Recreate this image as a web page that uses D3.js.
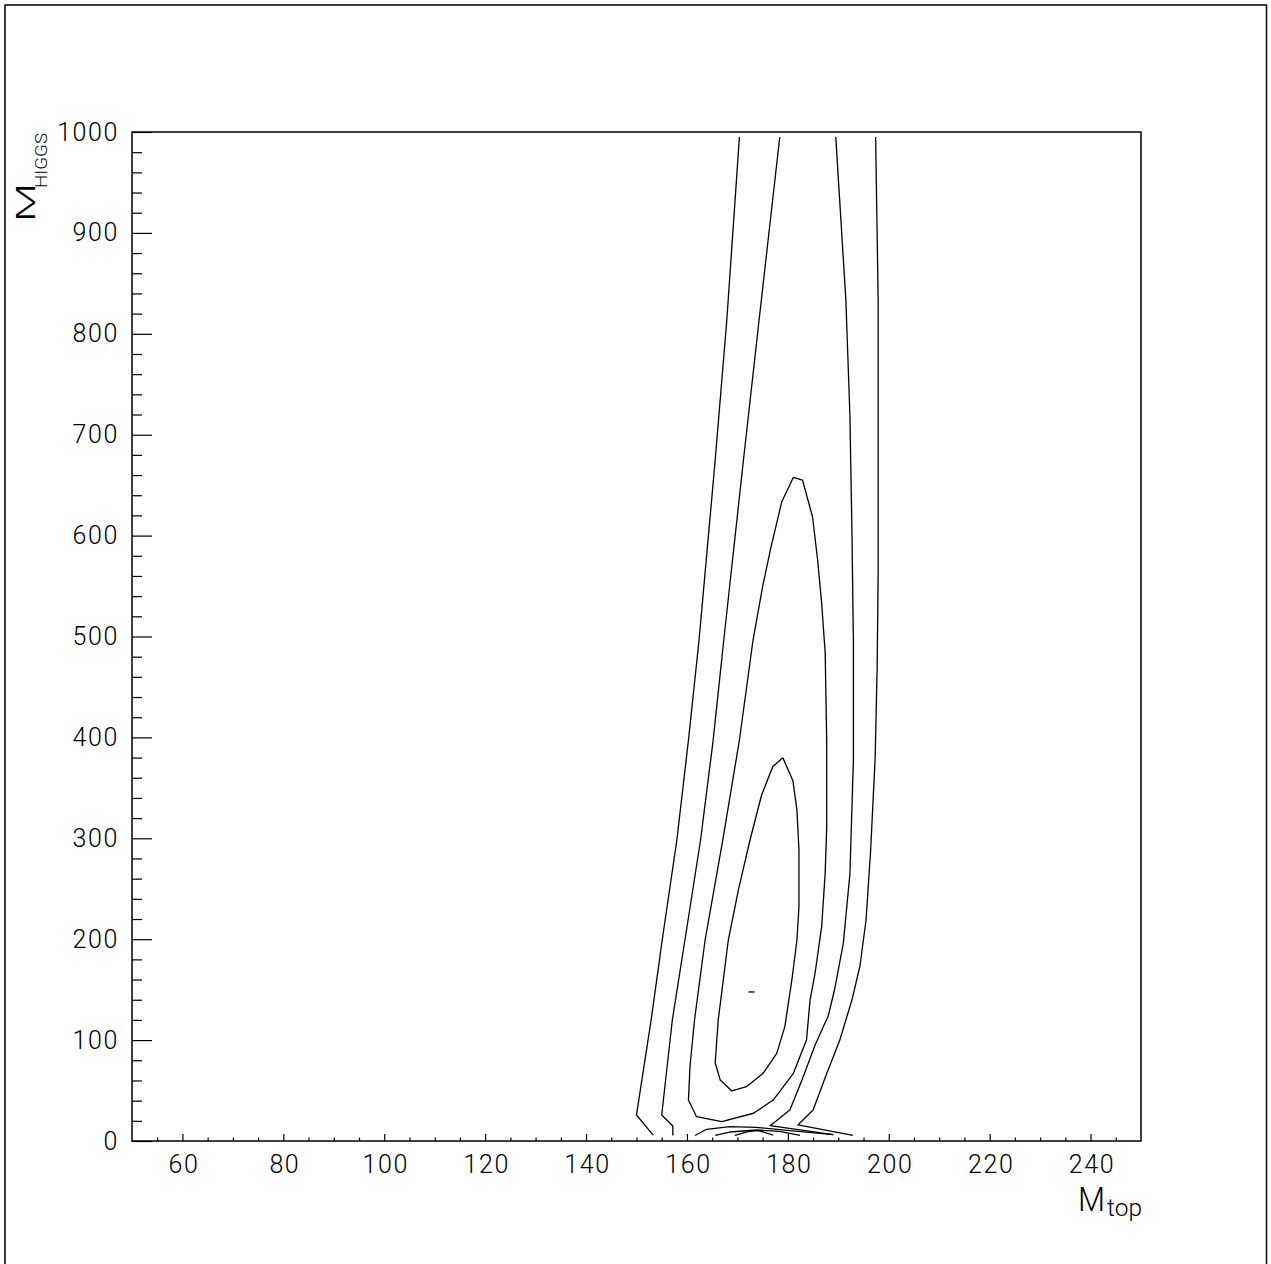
<!DOCTYPE html>
<html>
<head>
<meta charset="utf-8">
<script src="https://cdn.jsdelivr.net/npm/d3@7"></script>
<style>
  html, body { margin: 0; padding: 0; background: #fff; }
  svg { display: block; }
  text { font-family: Roboto, "DejaVu Sans", sans-serif; font-weight: 300; fill: #000; }
</style>
</head>
<body>
<svg id="chart" width="1271" height="1264"></svg>
<script>
// ---------- data (Mtop, MHiggs) ----------
const xTicksMajor = [60, 80, 100, 120, 140, 160, 180, 200, 220, 240];
const yTicksMajor = [0, 100, 200, 300, 400, 500, 600, 700, 800, 900, 1000];

// level 3 (outermost) contour, left and right branches (open at top)
const outerLeft = [[170.4,995.0],[167.9,813.7],[165.6,674.9],[162.4,496.5],[160.3,397.4],[158.0,298.3],[155.1,199.2],[152.9,119.9],[150.0,25.8],[153.3,5.9]];
const outerRight = [[197.4,995.0],[197.9,833.5],[197.9,561.0],[197.7,469.8],[197.3,378.6],[196.4,287.4],[195.5,219.0],[194.3,173.7],[192.7,139.7],[190.3,100.1],[187.6,65.4],[185.0,30.7],[182.0,15.9],[192.9,5.5]];

// level 2 contour
const secondLeft = [[178.4,995.0],[174.3,813.7],[171.2,674.9],[167.3,496.5],[165.2,397.4],[162.7,298.3],[159.6,199.2],[157.1,119.9],[155.0,25.8],[157.2,14.9],[157.2,5.5]];
const secondRight = [[189.5,995.0],[191.5,833.5],[192.3,719.5],[192.7,605.6],[193.0,492.6],[193.0,378.6],[192.3,264.6],[191.0,196.2],[189.3,150.9],[188.0,123.9],[185.4,95.1],[182.8,60.5],[180.4,30.7],[176.5,15.2],[189.0,6.4]];

// level 1 closed contour (peak near 655)
const loop1 = [[181.1,657.8],[182.9,655.1],[184.9,618.4],[185.9,575.8],[186.7,533.2],[187.4,483.6],[187.7,397.4],[187.7,310.2],[187.4,265.6],[186.7,212.4],[185.4,166.5],[184.4,139.7],[183.7,100.1],[181.1,67.1],[177.1,40.6],[173.2,27.5],[166.9,19.3],[161.9,24.1],[160.3,40.6],[160.6,73.6],[161.5,119.9],[163.6,199.2],[167.1,298.3],[170.4,397.4],[173.1,496.5],[175.0,549.4],[176.6,587.4],[178.8,633.6],[181.1,657.8]];

// level 0 closed contour (peak near 380)
const loop0 = [[179.0,379.9],[181.0,357.1],[181.8,328.0],[182.2,288.4],[182.2,232.2],[181.8,199.2],[180.8,159.6],[179.4,113.3],[177.8,86.9],[175.1,67.1],[171.8,53.8],[168.9,49.6],[166.6,60.5],[165.6,77.3],[166.2,119.9],[168.2,199.2],[170.2,248.8],[172.5,298.3],[174.8,342.9],[177.0,371.0],[179.0,379.9]];

// minimum marker
const minMark = [[172.2,147.7],[173.4,147.7]];

// small contours near MHiggs = 0
const arc1 = [[161.6,5.5],[163.9,11.6],[168.5,14.2],[173.8,13.6],[180.4,10.2],[189.0,6.4]];
const arc2 = [[165.6,5.5],[168.5,8.9],[173.8,10.9],[178.4,9.6],[182.4,5.5]];
const arc3 = [[169.5,5.5],[172.1,9.4],[174.1,10.4],[177.1,5.9]];

const contours = [outerLeft, outerRight, secondLeft, secondRight, loop1, loop0, minMark, arc1, arc2, arc3];

// ---------- drawing ----------
const svg = d3.select("#chart");
const L = 132, R = 1141, T = 132, B = 1141;
const x = d3.scaleLinear().domain([50, 250]).range([L, R]);
const y = d3.scaleLinear().domain([0, 1000]).range([B, T]);

// outer page frame
svg.append("rect").attr("x", 5).attr("y", 5).attr("width", 1261.5).attr("height", 1270)
  .attr("fill", "none").attr("stroke", "#000").attr("stroke-width", 1.5);

// plot frame
svg.append("rect").attr("x", L).attr("y", T).attr("width", R - L).attr("height", B - T)
  .attr("fill", "none").attr("stroke", "#000").attr("stroke-width", 1.5);

const labelStyle = sel => sel.attr("font-size", 25).attr("font-family", "Roboto, sans-serif")
  .attr("font-weight", 300).attr("fill", "#000").attr("letter-spacing", 1.6);

// x axis: major ticks (inside), minor ticks every 5
const xMinor = d3.range(55, 250, 5).filter(v => v % 20 !== 0);
const xAx = d3.axisBottom(x).tickValues(xTicksMajor).tickSize(-7).tickPadding(14).tickFormat(d3.format("d"));
const gx = svg.append("g").attr("transform", `translate(0,${B})`).call(xAx);
gx.select(".domain").remove();
gx.selectAll(".tick line").attr("stroke", "#000").attr("stroke-width", 1.2);
gx.selectAll(".tick text").call(labelStyle).attr("dx", 1);
const gxm = svg.append("g").attr("transform", `translate(0,${B})`)
  .call(d3.axisBottom(x).tickValues(xMinor).tickSize(-3.5).tickFormat(""));
gxm.select(".domain").remove();
gxm.selectAll(".tick line").attr("stroke", "#000").attr("stroke-width", 1.2);

// y axis
const yMinor = d3.range(20, 1000, 20).filter(v => v % 100 !== 0);
const yAx = d3.axisLeft(y).tickValues(yTicksMajor).tickSize(-20).tickPadding(13).tickFormat(d3.format("d"));
const gy = svg.append("g").attr("transform", `translate(${L},0)`).call(yAx);
gy.select(".domain").remove();
gy.selectAll(".tick line").attr("stroke", "#000").attr("stroke-width", 1.2);
gy.selectAll(".tick text").call(labelStyle);
const gym = svg.append("g").attr("transform", `translate(${L},0)`)
  .call(d3.axisLeft(y).tickValues(yMinor).tickSize(-10).tickFormat(""));
gym.select(".domain").remove();
gym.selectAll(".tick line").attr("stroke", "#000").attr("stroke-width", 1.2);

// axis titles
svg.append("text").attr("x", 1078).attr("y", 1211).attr("font-size", 34)
  .attr("textLength", 27).attr("lengthAdjust", "spacingAndGlyphs").text("M");
svg.append("text").attr("x", 1107).attr("y", 1216).attr("font-size", 23)
  .attr("textLength", 35).attr("lengthAdjust", "spacingAndGlyphs").text("top");

const yg = svg.append("g").attr("transform", "translate(0,0) rotate(-90)");
yg.append("text").attr("x", -222).attr("y", 35).attr("font-size", 26)
  .attr("textLength", 39).attr("lengthAdjust", "spacingAndGlyphs").text("M");
yg.append("text").attr("x", -188).attr("y", 47).attr("font-size", 17)
  .attr("textLength", 55).attr("lengthAdjust", "spacingAndGlyphs").text("HIGGS");

// contours
const line = d3.line().x(d => x(d[0])).y(d => y(d[1]));
svg.append("g").selectAll("path").data(contours).join("path")
  .attr("d", line).attr("fill", "none").attr("stroke", "#000").attr("stroke-width", 1.3)
  .attr("stroke-linejoin", "round");
</script>
</body>
</html>
